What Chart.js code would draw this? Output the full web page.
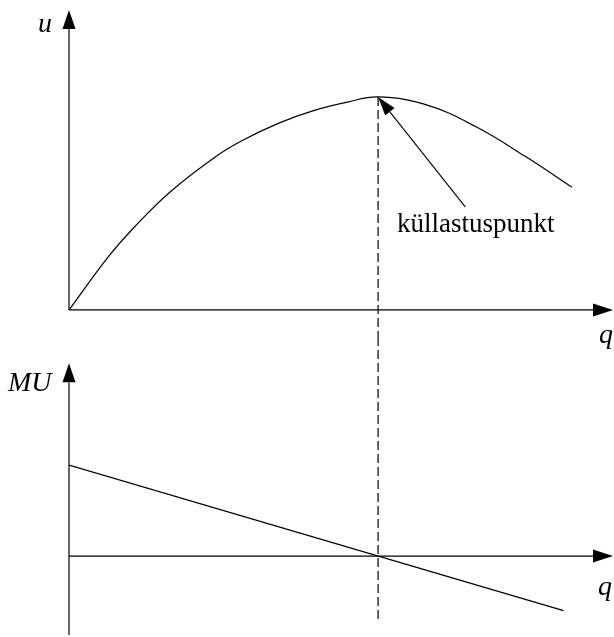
<!DOCTYPE html>
<html>
<head>
<meta charset="utf-8">
<script src="https://cdn.jsdelivr.net/npm/chart.js@4"></script>
<style>
    body { margin: 0; background: #fff; }
    #wrap { width: 614px; height: 637px; position: relative; }
</style>
</head>
<body>
<div id="wrap"><canvas id="mychart"></canvas></div>
<script>
// kogukasulikkus u(q), loetud jooniselt
const qU = [0, 1.27, 2.14, 3.27, 4.72, 5.59, 6.77, 7.96, 9.04, 10, 11.52, 13.14, 14.76, 16.27]
const uVals = [0, 2.49, 3.93, 5.54, 7.17, 7.94, 8.76, 9.38, 9.77, 10, 9.65, 8.62, 7.21, 5.76]

// piirkasulikkus MU(q)
const qMU = [0, 16]
const muVals = [4, -2.4]

// küllastuspunkt
const satQ = 10
const satU = 10

// telgede ulatus (andmeühikutes)
const qMax = 17.6
const uRange = [-1.27, 14.55]
const muRange = [-3.56, 9.63]
const uAxisTop = 14.08
const muAxisTop = 8.48
const muAxisBottom = -3.47
const dashMuBottom = -2.9
const labelFrom = [12.82, 4.84]

const serif = '"Liberation Serif", "Times New Roman", serif'

function arrowHead(ctx, x1, y1, x2, y2, len, w) {
    const a = Math.atan2(y2 - y1, x2 - x1)
    const bx = x2 - len * Math.cos(a)
    const by = y2 - len * Math.sin(a)
    ctx.beginPath()
    ctx.moveTo(x1, y1)
    ctx.lineTo(bx, by)
    ctx.stroke()
    ctx.beginPath()
    ctx.moveTo(x2, y2)
    ctx.lineTo(bx + w / 2 * Math.sin(a), by - w / 2 * Math.cos(a))
    ctx.lineTo(bx - w / 2 * Math.sin(a), by + w / 2 * Math.cos(a))
    ctx.closePath()
    ctx.fill()
}

const axesPlugin = {
    id: 'axesPlugin',
    afterDatasetsDraw(chart) {
        const ctx = chart.ctx
        const x = chart.scales.x
        const yU = chart.scales.yU
        const yMU = chart.scales.yMU
        ctx.save()
        ctx.strokeStyle = '#000'
        ctx.fillStyle = '#000'
        ctx.lineWidth = 1.2

        // ülemine paneel
        arrowHead(ctx, x.getPixelForValue(0), yU.getPixelForValue(0),
            x.getPixelForValue(qMax), yU.getPixelForValue(0), 20, 13)
        arrowHead(ctx, x.getPixelForValue(0), yU.getPixelForValue(0),
            x.getPixelForValue(0), yU.getPixelForValue(uAxisTop), 19, 13)

        // alumine paneel
        arrowHead(ctx, x.getPixelForValue(0), yMU.getPixelForValue(0),
            x.getPixelForValue(qMax), yMU.getPixelForValue(0), 20, 13)
        arrowHead(ctx, x.getPixelForValue(0), yMU.getPixelForValue(muAxisBottom),
            x.getPixelForValue(0), yMU.getPixelForValue(muAxisTop), 19, 13)

        // küllastuspunkti nool
        ctx.lineWidth = 1.1
        arrowHead(ctx, x.getPixelForValue(labelFrom[0]), yU.getPixelForValue(labelFrom[1]),
            x.getPixelForValue(satQ), yU.getPixelForValue(satU), 19, 12)

        // tekstid
        ctx.textBaseline = 'alphabetic'
        ctx.font = 'italic 28px ' + serif
        ctx.textAlign = 'left'
        ctx.fillText('u', 38, 32)
        ctx.fillText('MU', 8, 391)
        ctx.fillText('q', 599, 343)
        ctx.fillText('q', 598, 595)
        ctx.font = '27px ' + serif
        ctx.fillText('küllastuspunkt', 397, 232)
        ctx.restore()
    }
}

new Chart(document.getElementById('mychart'), {
    type: 'line',
    data: {
        datasets: [
            {
                data: qU.map((q, i) => ({ x: q, y: uVals[i] })),
                yAxisID: 'yU',
                borderColor: '#000',
                borderWidth: 1.2,
                pointRadius: 0,
                tension: 0.4
            },
            {
                data: [{ x: satQ, y: satU }, { x: satQ, y: uRange[0] }],
                yAxisID: 'yU',
                borderColor: '#000',
                borderWidth: 1.2,
                borderDash: [9, 4],
                pointRadius: 0
            },
            {
                data: qMU.map((q, i) => ({ x: q, y: muVals[i] })),
                yAxisID: 'yMU',
                borderColor: '#000',
                borderWidth: 1.2,
                pointRadius: 0
            },
            {
                data: [{ x: satQ, y: muRange[1] }, { x: satQ, y: dashMuBottom }],
                yAxisID: 'yMU',
                borderColor: '#000',
                borderWidth: 1.2,
                borderDash: [9, 4],
                pointRadius: 0
            }
        ]
    },
    options: {
        responsive: true,
        maintainAspectRatio: false,
        animation: false,
        layout: { padding: { left: 69, right: 1, top: 0, bottom: 0 } },
        plugins: {
            legend: { display: false },
            tooltip: { enabled: false }
        },
        scales: {
            x: { type: 'linear', min: 0, max: qMax, display: false },
            yMU: {
                type: 'linear', min: muRange[0], max: muRange[1],
                stack: 'panels', stackWeight: 300, weight: 1, display: false
            },
            yU: {
                type: 'linear', min: uRange[0], max: uRange[1],
                stack: 'panels', stackWeight: 337, weight: 2, display: false
            }
        }
    },
    plugins: [axesPlugin]
})
</script>
</body>
</html>
